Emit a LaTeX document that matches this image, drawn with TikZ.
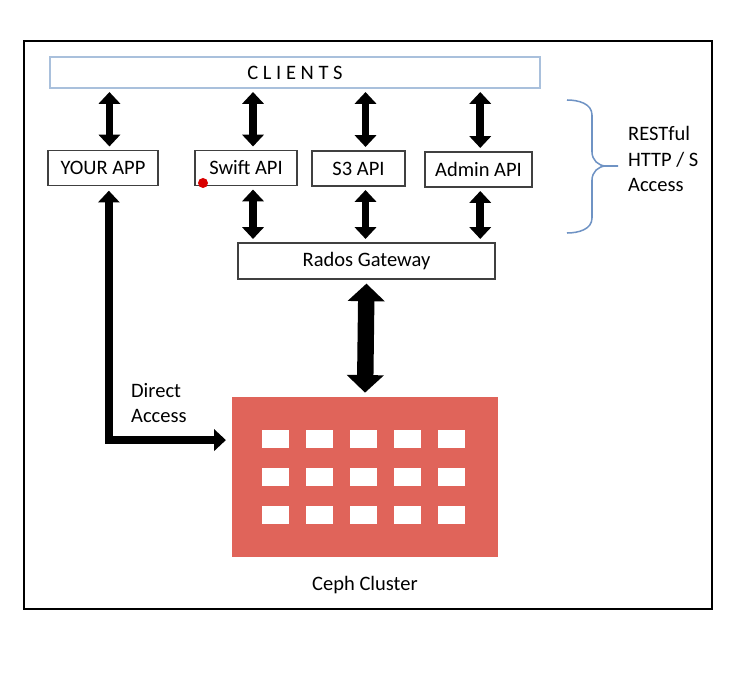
\documentclass[tikz,border=0pt]{standalone}
\usepackage{fontspec}
\setmainfont{Carlito}
\usetikzlibrary{positioning, arrows.meta, calc}
\definecolor{cephred}{HTML}{E0645A}
\definecolor{braceblue}{HTML}{6F93C4}
\definecolor{clientblue}{HTML}{A9C0DC}
\tikzset{Box style/.style={draw=black!75, line width=0.9pt, fill=white, align=center, inner sep=0pt}}
\tikzset{
	Arrow style/.style={{Triangle[width=18pt,length=10pt]}-{Triangle[width=18pt,length=10pt]}, line width=6.5pt, shorten >=3pt, shorten <=3pt}, % flechas dobles
	Big arrow style/.style={{Triangle[width=31pt,length=15pt]}-{Triangle[width=31pt,length=15pt]}, line width=14pt, shorten >=3.5pt, shorten <=3.5pt},
	Label style/.style={align=left, anchor=west, font=\fontsize{17.5}{21}\selectfont},
}

\begin{document}
\begin{tikzpicture}[x=0.03cm, y=-0.03cm, font=\fontsize{17.5}{21}\selectfont]
        \useasboundingbox (0,0) rectangle (744,679);
        \draw[line width=2.5pt] (24,41) rectangle (712,609);

        \node[Box style, draw=clientblue, minimum width=14.7cm, minimum height=0.93cm] (clients) at (295,72.5) {C L I E N T S};
        \node[Box style, minimum width=3.3cm, minimum height=1.05cm] (yourapp) at (103,168) {YOUR APP};
        \node[Box style, minimum width=3.06cm, minimum height=1.05cm] (swift) at (246,168) {Swift API};
        \node[Box style, minimum width=2.79cm, minimum height=1.05cm] (s3) at (358.5,168.5) {S3 API};
        \node[Box style, minimum width=3.21cm, minimum height=1.05cm] (admin) at (478.5,169.5) {Admin API};
        \node[Box style, minimum width=7.71cm, minimum height=1.08cm] (rados) at (366.5,261) {Rados Gateway};
        \node[fill=cephred, minimum width=7.98cm, minimum height=4.8cm, inner sep=0pt] (cluster) at (365,477) {};
        \node[below=0.45cm of cluster] (ceph) {Ceph Cluster};
        \fill[red!85!black] (203,183) circle (5);

        % ventanas del cluster
        \foreach \i in {0,...,4}
            \foreach \j in {0,1,2}
                \fill[white] (262+44*\i,430+38*\j) rectangle ++(27,18);

        \draw ([xshift=5.5pt]clients.south -| yourapp) edge[Arrow style] ([xshift=5.5pt]yourapp.north)
              ([xshift=6pt]clients.south -| swift) edge[Arrow style] ([xshift=6pt]swift.north)
              ([xshift=6pt]clients.south -| s3) edge[Arrow style] ([xshift=6pt]s3.north)
              ([xshift=1.5pt]clients.south -| admin) edge[Arrow style] ([xshift=1.5pt]admin.north)
              ([xshift=6pt]swift.south) edge[Arrow style] ([xshift=6pt]rados.north -| swift)
              ([xshift=6pt]s3.south) edge[Arrow style] ([xshift=6pt]rados.north -| s3)
              ([xshift=1.5pt]admin.south) edge[Arrow style] ([xshift=1.5pt]rados.north -| admin)
              (rados.south) edge[Big arrow style] (cluster.north);
        \draw[Arrow style, shorten <=4pt, shorten >=5pt] ([xshift=5pt]yourapp.south) |- ($(cluster.north west)!0.27!(cluster.south west)$);

        \node[Label style] (direct) at (127,403) {Direct\\Access};

        % llave azul
        \draw[braceblue, line width=1.3pt] (567,100) to[out=0, in=90] (592,115) -- (592,152) to[out=-90, in=180] (606,166) -- (618,166);
        \draw[braceblue, line width=1.3pt] (567,233) to[out=0, in=-90] (592,218) -- (592,180) to[out=90, in=180] (606,166);
        \node[Label style, font=\fontsize{17.5}{21.5}\selectfont] (restful) at (624,159) {RESTful\\HTTP / S\\Access};
\end{tikzpicture}
\end{document}
